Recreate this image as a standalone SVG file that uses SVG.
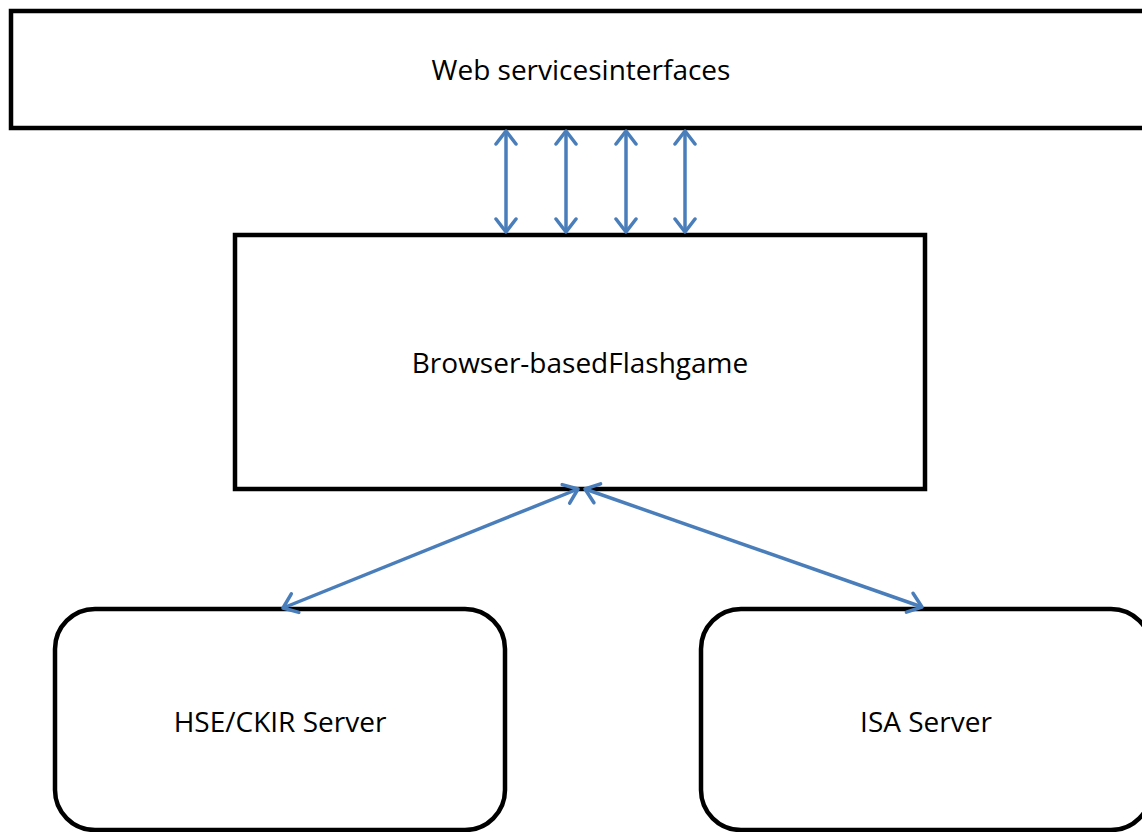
<svg xmlns="http://www.w3.org/2000/svg" width="1142" height="832" viewBox="0 0 1142 832">
<style>
.box{fill:#fff;stroke:#000;stroke-width:4.5}
.lbl{font-family:"Open Sans","Liberation Sans",sans-serif;font-size:28px;fill:#000;text-anchor:middle}
.conn{stroke:#4a7ebb;stroke-width:3.5;fill:none}
</style>
<defs>
<marker id="ah" viewBox="0 0 24 24" refX="22" refY="12" markerWidth="24" markerHeight="24" markerUnits="userSpaceOnUse" orient="auto-start-reverse">
<path d="M9,2 L22,12 L9,22" fill="none" stroke="#4a7ebb" stroke-width="3.5" stroke-linecap="round" stroke-linejoin="round"/>
</marker>
</defs>
<rect width="1142" height="832" fill="#fff"/>
<g id="web">
<rect class="box" x="11" y="11" width="1145" height="117"/>
<text class="lbl" x="581" y="80">Web servicesinterfaces</text>
</g>
<g id="browser">
<rect class="box" x="235" y="235" width="690" height="254"/>
<text class="lbl" x="580" y="373">Browser-basedFlashgame</text>
</g>
<g id="hse">
<rect class="box" x="55" y="609" width="450" height="221" rx="40" ry="40"/>
<text class="lbl" x="280" y="732">HSE/CKIR Server</text>
</g>
<g id="isa">
<rect class="box" x="701" y="609" width="450" height="221" rx="40" ry="40"/>
<text class="lbl" x="926" y="732">ISA Server</text>
</g>
<g id="connectors">
<line class="conn" x1="506" y1="131" x2="506" y2="232" marker-start="url(#ah)" marker-end="url(#ah)"/>
<line class="conn" x1="566" y1="131" x2="566" y2="232" marker-start="url(#ah)" marker-end="url(#ah)"/>
<line class="conn" x1="626" y1="131" x2="626" y2="232" marker-start="url(#ah)" marker-end="url(#ah)"/>
<line class="conn" x1="685" y1="131" x2="685" y2="232" marker-start="url(#ah)" marker-end="url(#ah)"/>
<line class="conn" x1="578" y1="489" x2="283" y2="608" marker-start="url(#ah)" marker-end="url(#ah)"/>
<line class="conn" x1="585" y1="489" x2="922" y2="607" marker-start="url(#ah)" marker-end="url(#ah)"/>
</g>
</svg>
